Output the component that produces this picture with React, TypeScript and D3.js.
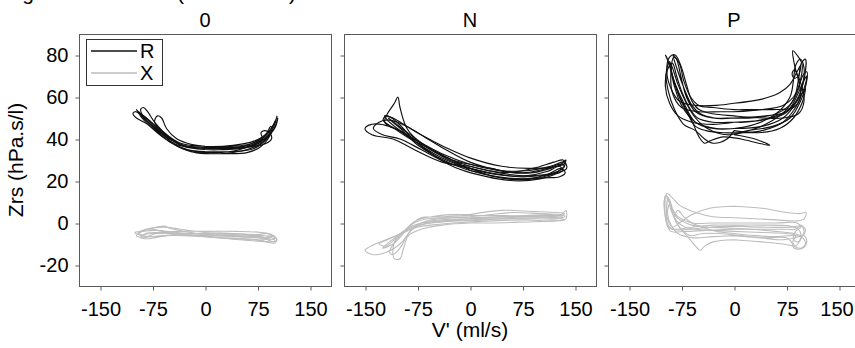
import { useEffect, useRef } from "react";
import * as d3 from "d3";

type Pt = [number, number];

// panel titles, ticks, legend
const panelNames = ["0", "N", "P"];
const xTicks = [-150, -75, 0, 75, 150];
const yTicks = [-20, 0, 20, 40, 60, 80];
const seriesNames = ["R", "X"];

// ---- panel "0" : breath cycles, [V' ml/s, Zrs hPa.s/l]
const r0: Pt[][] = [
  [[0,35],[35,35],[65,36.5],[85,40],[97,45],[101,49],[98,47],[88,42],[60,37],[25,35],[0,35],[-30,36.5],[-55,41],[-78,47],[-93,52],[-98,54],[-95,53],[-80,49],[-58,42],[-35,37],[-10,35.5],[0,35]],
  [[0,34],[40,34],[70,35.5],[88,40],[96,44],[94,46],[85,41],[55,35.5],[20,33.5],[0,33.5],[-28,35],[-52,39],[-75,45],[-90,50],[-96,53],[-90,51],[-72,45],[-50,38.5],[-25,35],[0,34]],
  [[0,36.5],[38,36.5],[68,38],[86,42],[99,47],[103,51],[100,48],[90,43],[70,39],[40,37],[0,36.5],[-35,38],[-58,43],[-72,48],[-68,51],[-62,50],[-55,45],[-40,40],[-20,37.5],[0,36.5]],
  [[0,33],[30,33],[60,33.5],[78,36],[90,40],[95,44],[92,42],[80,38],[55,34.5],[20,33],[0,33.2],[-25,34.5],[-45,38],[-68,44],[-85,49],[-92,51],[-85,50],[-65,44],[-42,37],[-20,34],[0,33]],
  [[0,35.5],[45,35.5],[72,37],[82,40],[80,43],[85,44],[92,43],[95,40],[80,37],[50,36],[0,35.5],[-32,37],[-50,40.5],[-70,46],[-88,51],[-100,53],[-103,52],[-98,50],[-82,47],[-60,41],[-38,37],[0,35.5]],
  [[0,36],[40,36],[70,37.5],[90,41],[100,46],[104,50],[101,46],[92,42],[65,37],[30,36],[0,36],[-30,37],[-50,40],[-66,44],[-84,49],[-92,54],[-88,55],[-82,53],[-72,48],[-52,41],[-30,37],[0,36]],
];
const x0: Pt[][] = [
  [[0,-5],[40,-5.5],[80,-6],[98,-6.5],[103,-8],[98,-9],[85,-7.5],[50,-6.5],[0,-5.5],[-40,-4.5],[-70,-3.5],[-90,-4],[-100,-4.5],[-95,-5.5],[-75,-5],[-40,-5],[0,-5]],
  [[0,-4],[45,-4],[80,-4.5],[95,-5.5],[100,-7],[95,-8],[80,-6.5],[40,-5],[0,-4.5],[-35,-3],[-55,-2],[-75,-2.5],[-90,-4],[-98,-6],[-88,-7],[-70,-5],[-40,-4],[0,-4]],
  [[0,-6],[50,-6.5],[85,-7],[96,-6],[102,-7.5],[100,-9.5],[88,-9],[50,-8],[20,-7],[0,-6.5],[-30,-5.5],[-60,-4],[-80,-3],[-95,-5],[-85,-6.5],[-60,-6],[-30,-6],[0,-6]],
  [[0,-5],[40,-5],[75,-5.5],[90,-5],[96,-6],[92,-7],[75,-6.5],[40,-6],[0,-5.5],[-30,-4],[-50,-2.5],[-58,-1.5],[-70,-2],[-85,-3],[-95,-4.5],[-90,-6],[-70,-6.5],[-45,-5.5],[0,-5]],
  [[0,-6.5],[30,-7],[60,-7.5],[85,-8],[95,-7],[100,-8.5],[92,-9],[70,-8],[40,-7.5],[0,-6.5],[-35,-5],[-65,-4.5],[-85,-5],[-92,-7],[-80,-7.5],[-55,-6],[-25,-6],[0,-6.5]],
];

// ---- panel "N"
const rN: Pt[][] = [
  [[0,27],[40,24],[75,22.5],[105,23],[125,24.5],[135,27],[130,28],[110,26],[80,24],[40,25],[0,28],[-40,33],[-80,40],[-115,46],[-140,47],[-150,45],[-140,42],[-110,40],[-80,35],[-40,29],[0,27]],
  [[0,25],[40,22],[75,21],[105,22],[128,25],[136,28],[133,30],[120,29],[90,26],[50,24],[0,27],[-40,32],[-70,38],[-90,45],[-100,55],[-103,60],[-108,57],[-118,52],[-122,48],[-115,46],[-100,44],[-80,40],[-50,34],[-20,29],[0,25]],
  [[0,26],[35,23.5],[70,22],[100,22.5],[125,24],[138,26],[135,29],[115,27],[85,25],[45,25],[0,29],[-35,35],[-65,41],[-90,46],[-115,49],[-130,48],[-138,45],[-125,42],[-100,40],[-70,35],[-35,29],[0,26]],
  [[0,24],[40,21],[70,20],[100,21],[120,23],[132,25],[128,27],[110,24.5],[80,22.5],[40,23],[0,26],[-40,31],[-75,38],[-100,44],[-118,49],[-122,51],[-112,50],[-98,46],[-82,40],[-55,33],[-25,27],[0,24]],
  [[0,28],[30,26],[60,24],[90,24],[115,26],[130,28],[137,30],[134,28],[115,26.5],[85,26],[45,27],[0,31],[-35,36],[-70,42],[-95,47],[-110,50],[-120,51],[-124,49],[-108,45],[-85,40],[-55,35],[-25,30],[0,28]],
  [[0,25],[45,21.5],[80,21],[110,23],[130,26],[136,24],[128,22],[105,21.5],[70,20.5],[35,22],[0,26],[-30,30],[-60,36],[-85,42],[-105,47],[-117,50],[-110,48],[-96,44],[-78,38],[-50,32],[-25,28],[0,25]],
];
const xN: Pt[][] = [
  [[0,2],[50,3],[100,3.5],[130,4],[137,6],[137,2],[120,1],[80,1.5],[30,1],[0,0.5],[-40,-0.5],[-75,-2],[-105,-6],[-135,-10],[-150,-13],[-140,-15],[-120,-14],[-100,-10],[-85,-4],[-70,0],[-40,1.5],[0,2]],
  [[0,4],[45,6],[90,5.5],[125,5],[135,4.5],[130,3.5],[100,3],[50,3.5],[0,3.5],[-40,3],[-70,2.5],[-82,0],[-95,-5],[-110,-10],[-125,-12],[-115,-9],[-95,-4],[-78,1],[-55,3],[-25,4],[0,4]],
  [[0,1],[50,2],[100,2.5],[130,2],[135,1.5],[120,1],[80,0.5],[30,0],[0,0],[-40,-1],[-70,-3],[-88,-6],[-95,-12],[-100,-17],[-108,-17],[-110,-12],[-105,-7],[-90,-3],[-60,0],[-30,1],[0,1]],
  [[0,2.5],[40,3],[80,3.5],[115,4],[132,3],[125,2],[95,2],[55,2],[0,1.5],[-40,0.5],[-72,-1],[-92,-4],[-118,-8],[-130,-10],[-120,-11],[-105,-7],[-90,-3],[-80,0],[-60,2],[-30,2.5],[0,2.5]],
  [[0,3],[30,4],[60,5],[100,4.5],[128,4],[136,3],[125,2.5],[95,3],[50,2.5],[0,2],[-40,1],[-75,-0.5],[-90,-3],[-105,-8],[-115,-14],[-110,-15],[-100,-12],[-90,-6],[-80,-2],[-55,1.5],[-25,2.5],[0,3]],
];

// ---- panel "P"
const rP: Pt[][] = [
  [[0,45],[40,46],[70,50],[88,57],[98,66],[100,74],[95,78],[88,75],[85,68],[80,60],[60,52],[30,47],[0,45],[-30,45],[-55,48],[-70,56],[-85,67],[-95,78],[-98,80],[-92,75],[-85,65],[-75,56],[-55,48],[-25,45],[0,45]],
  [[0,53],[40,54],[70,56],[85,60],[95,68],[97,76],[90,80],[84,82],[86,76],[92,68],[95,60],[85,55],[55,54],[20,54],[0,54],[-30,55],[-50,56],[-62,60],[-72,68],[-78,76],[-86,79],[-90,72],[-88,62],[-75,55],[-50,53],[-20,53],[0,53]],
  [[0,42],[30,40],[51,37],[35,38],[10,40],[-15,41],[-35,39],[-42,38],[-50,41],[-58,47],[-70,55],[-80,62],[-88,70],[-92,77],[-88,74],[-80,66],[-68,57],[-55,50],[-38,45],[-10,42],[20,44],[55,46],[80,50],[95,58],[103,66],[104,72],[98,70],[90,62],[75,54],[45,47],[0,42]],
  [[0,48],[40,49],[72,52],[90,58],[100,64],[104,70],[100,68],[92,62],[78,54],[50,50],[15,48],[0,48],[-30,48],[-52,50],[-64,55],[-74,62],[-82,70],[-88,76],[-95,73],[-98,65],[-92,57],[-80,51],[-60,48],[-30,47],[0,48]],
  [[0,57],[40,59],[65,62],[80,66],[90,72],[95,75],[92,70],[86,69],[83,71],[86,73],[90,71],[96,66],[100,58],[92,52],[70,50],[40,50],[0,51],[-30,52],[-50,54],[-60,58],[-68,66],[-75,74],[-84,80],[-92,79],[-96,72],[-90,64],[-78,58],[-55,56],[-25,56],[0,57]],
  [[0,44],[35,43],[65,45],[85,50],[97,57],[102,64],[98,62],[88,55],[70,48],[40,44],[10,43],[-15,43],[-40,44],[-55,46],[-66,52],[-78,60],[-86,68],[-93,76],[-97,71],[-94,63],[-85,54],[-72,47],[-55,44],[-42,40],[-30,38],[-10,40],[0,44]],
  [[0,50],[45,51],[75,53],[92,60],[101,70],[102,78],[96,76],[92,68],[84,58],[60,52],[25,50],[0,50],[-28,50],[-48,52],[-60,56],[-70,63],[-80,72],[-87,80],[-82,78],[-76,70],[-68,60],[-55,53],[-30,50],[0,50]],
];
const xP: Pt[][] = [
  [[0,8],[40,7],[75,5],[95,4.5],[103,5],[100,2],[90,1],[60,1.5],[30,2],[0,2.5],[-30,3],[-55,5],[-70,7],[-80,9],[-88,12],[-96,14],[-97,8],[-95,2],[-88,-2],[-78,0],[-60,4],[-35,7],[0,8]],
  [[0,-1],[40,-1],[80,-1.5],[92,-3],[96,-6],[92,-9],[85,-8],[88,-4],[95,-2],[90,0],[60,0],[20,0],[0,0],[-30,0],[-60,0],[-80,3],[-90,8],[-97,13],[-100,10],[-98,3],[-94,-2],[-85,-3],[-60,-2],[-30,-1],[0,-1]],
  [[0,-8],[40,-9],[70,-10],[85,-11],[95,-12],[102,-10],[98,-7],[85,-6],[60,-6.5],[30,-6],[0,-5],[-25,-4],[-45,-2],[-60,0],[-72,3],[-80,6],[-85,3],[-78,-2],[-65,-7],[-55,-11],[-48,-13],[-42,-11],[-30,-9],[0,-8]],
  [[0,-3],[40,-3],[75,-3],[88,-3],[96,-1],[100,-4],[95,-8],[88,-11],[84,-9],[88,-6],[75,-5],[40,-4.5],[0,-4],[-30,-3.5],[-55,-3],[-70,-2],[-82,1],[-90,6],[-94,12],[-96,5],[-95,-1],[-90,-4],[-70,-4],[-40,-3.5],[0,-3]],
  [[0,-6],[35,-7],[70,-8],[88,-7],[100,-6],[104,-9],[98,-12],[86,-12],[82,-9],[75,-7],[45,-7],[10,-6],[-20,-5],[-45,-5],[-62,-6],[-72,-4],[-82,0],[-87,4],[-92,9],[-95,5],[-90,-1],[-80,-5],[-60,-7],[-30,-6.5],[0,-6]],
  [[0,-1.5],[45,-2],[80,-2],[95,-1.5],[102,-3],[98,-6],[86,-5],[60,-4],[25,-3],[0,-2.5],[-35,-2],[-60,-1],[-75,1],[-85,4],[-92,11],[-98,13],[-99,7],[-96,0],[-88,-3],[-65,-3],[-35,-2],[0,-1.5]],
];

const rLoops = [r0, rN, rP];
const xLoops = [x0, xN, xP];

export default function App() {
  const svgRef = useRef<SVGSVGElement>(null);

  useEffect(() => {
    const svg = d3.select(svgRef.current);
    svg.selectAll("*").remove();

    const W = 855, H = 348;
    const panelLeft = [79, 344, 608];
    const top = 34;
    const pw = 252, ph = 252;
    const frameColor = "#5a5a5a";
    const font = "'Liberation Sans', Arial, sans-serif";
    const colR = "#111111";
    const colX = "#bdbdbd";

    svg.attr("width", W).attr("height", H).style("font-family", font);

    const x = d3.scaleLinear().domain([-180, 180]).range([0, pw]);
    const y = d3.scaleLinear().domain([-30, 90]).range([ph, 0]);

    const line = d3.line<Pt>()
      .x(d => x(d[0]))
      .y(d => y(d[1]))
      .curve(d3.curveCatmullRom.alpha(0.5));

    // heading of the figure, cut off by the top edge (only descenders show)
    svg.append("text").attr("x", 34).attr("y", 0).attr("text-anchor", "end")
      .attr("font-size", 21).text("Zrs during tidal breathing");
    svg.append("text").attr("x", 177).attr("y", 0)
      .attr("font-size", 21).text("(ten breaths)");

    panelNames.forEach((name, i) => {
      const g = svg.append("g").attr("transform", `translate(${panelLeft[i]},${top})`);

      g.append("clipPath").attr("id", `clip${i}`)
        .append("rect").attr("width", pw).attr("height", ph);

      // title
      g.append("text").attr("x", pw / 2).attr("y", -7)
        .attr("text-anchor", "middle").attr("font-size", 20).text(name);

      const plot = g.append("g").attr("clip-path", `url(#clip${i})`);

      plot.selectAll(".xloop").data(xLoops[i]).enter().append("path")
        .attr("d", d => line(d))
        .attr("fill", "none").attr("stroke", colX).attr("stroke-width", 1.1);

      plot.selectAll(".rloop").data(rLoops[i]).enter().append("path")
        .attr("d", d => line(d))
        .attr("fill", "none").attr("stroke", colR).attr("stroke-width", 1.15);

      // frame
      g.append("rect").attr("x", 0.5).attr("y", 0.5).attr("width", pw).attr("height", ph)
        .attr("fill", "none").attr("stroke", frameColor).attr("stroke-width", 1);

      // x axis
      const xa = g.append("g").attr("transform", `translate(0.5,${ph + 0.5})`)
        .call(d3.axisBottom(x).tickValues(xTicks).tickSize(4).tickPadding(11.5));
      xa.select(".domain").remove();
      xa.selectAll("line").attr("stroke", frameColor);
      xa.selectAll<SVGTextElement, number>("text")
        .attr("font-size", 20).attr("fill", "#000").style("font-family", font)
        .text(d => String(d))
        // last label of the right panel sits against the page edge
        .attr("dx", d => (i === 2 && d === 150 ? -3 : 0));

      // y axis
      const ya = g.append("g").attr("transform", "translate(0.5,0.5)")
        .call(d3.axisLeft(y).tickValues(yTicks).tickSize(4).tickPadding(7));
      ya.select(".domain").remove();
      ya.selectAll("line").attr("stroke", frameColor);
      if (i === 0) {
        ya.selectAll<SVGTextElement, number>("text")
          .attr("font-size", 20).attr("fill", "#000").style("font-family", font)
          .text(d => String(d));
      } else {
        ya.selectAll("text").remove();
      }

      // legend
      if (i === 0) {
        const lg = g.append("g").attr("transform", "translate(7,5)");
        lg.append("rect").attr("x", 0.5).attr("y", 0.5).attr("width", 76).attr("height", 46)
          .attr("fill", "#fff").attr("stroke", "#333").attr("stroke-width", 1);
        seriesNames.forEach((s, k) => {
          const ly = 12 + k * 22;
          lg.append("line").attr("x1", 5).attr("x2", 51).attr("y1", ly).attr("y2", ly)
            .attr("stroke", k === 0 ? colR : colX).attr("stroke-width", 1.6);
          lg.append("text").attr("x", 54).attr("y", ly).attr("dy", "0.36em")
            .attr("font-size", 20).text(s);
        });
      }
    });

    // axis titles
    svg.append("text")
      .attr("transform", `translate(23,${top + ph / 2}) rotate(-90)`)
      .attr("text-anchor", "middle").attr("font-size", 21)
      .text("Zrs (hPa.s/l)");
    svg.append("text")
      .attr("x", panelLeft[1] + pw / 2).attr("y", 337)
      .attr("text-anchor", "middle").attr("font-size", 21)
      .text("V' (ml/s)");
  }, []);

  return (
    <div style={{ position: "absolute", left: 0, top: 0, width: 855, height: 348, overflow: "hidden" }}>
      <svg ref={svgRef} style={{ display: "block" }} />
    </div>
  );
}
